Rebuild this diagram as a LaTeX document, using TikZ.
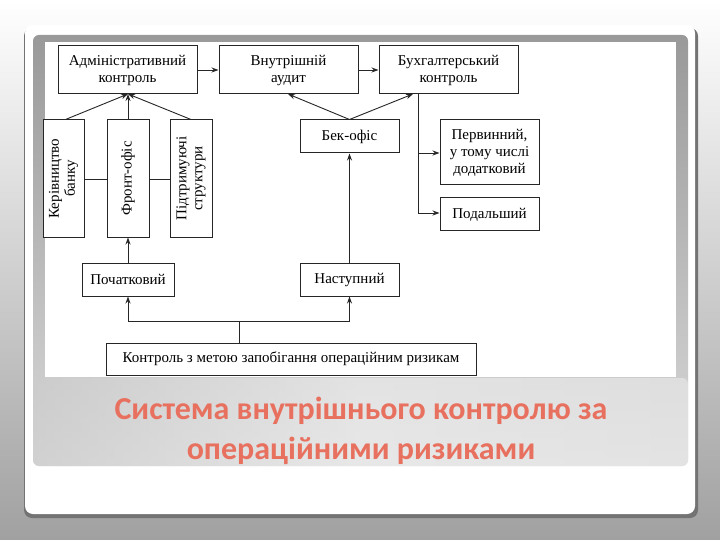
\documentclass[tikz,border=0pt]{standalone}
\usepackage{fontspec}
\setmainfont{Liberation Serif}
\newfontfamily\titlefont{Carlito}
\usetikzlibrary{arrows.meta,shadows}
\definecolor{titlec}{HTML}{E8705E}
\begin{document}
\begin{tikzpicture}[x=1pt,y=-1pt,
  bx/.style={draw=black!85,line width=1pt,fill=white,align=center,inner sep=0pt,font=\fontsize{15}{17}\selectfont},
  vt/.style={rotate=90,align=center,font=\fontsize{15}{16}\selectfont},
  ar/.style={-{Stealth[length=7pt,width=5pt]},line width=0.9pt,black!85},
  ln/.style={line width=0.9pt,black!85}]
\useasboundingbox (0,0) rectangle (720,540);
\shade[top color=white,bottom color=black!37] (0,0) rectangle (720,540);
\fill[black!55,rounded corners=8pt] (24,28) rectangle (698,518);
\fill[white,rounded corners=8pt] (25,25) rectangle (695,514);
\shade[top color=black!40,bottom color=black!15,rounded corners=6pt] (33,35) rectangle (688,466);
\shade[left color=black!20,right color=black!8,middle color=black!5,rounded corners=6pt,opacity=0.6] (33,378) rectangle (688,466);
\fill[white] (45,42) rectangle (676,377);
% boxes
\node[bx,minimum width=139pt,minimum height=48pt] (adm) at (127.5,70) {Адміністративний\\контроль};
\node[bx,minimum width=139pt,minimum height=48pt] (aud) at (288.5,70) {Внутрішній\\аудит};
\node[bx,minimum width=139pt,minimum height=48pt] (buh) at (448.5,70) {Бухгалтерський\\контроль};
\node[bx,minimum width=41pt,minimum height=117pt] (ker) at (63.5,178.5) {};
\node[vt] at (ker.center) {Керівництво\\банку};
\node[bx,minimum width=42pt,minimum height=117pt] (fro) at (128,178.5) {};
\node[vt] at (fro.center) {Фронт-офіс};
\node[bx,minimum width=42pt,minimum height=117pt] (pid) at (191,178.5) {};
\node[vt] at (pid.center) {Підтримуючі\\структури};
\node[bx,minimum width=99pt,minimum height=33pt] (bek) at (349.5,136.5) {Бек-офіс};
\node[bx,minimum width=99pt,minimum height=65pt] (per) at (489.5,152.5) {Первинний,\\у тому числі\\додатковий};
\node[bx,minimum width=99pt,minimum height=33pt] (pod) at (489.5,214.5) {Подальший};
\node[bx,minimum width=92pt,minimum height=33pt] (poc) at (128,279.5) {Початковий};
\node[bx,minimum width=99pt,minimum height=33pt] (nas) at (349.5,279.5) {Наступний};
\node[bx,minimum width=370pt,minimum height=32pt] (bot) at (291,359) {Контроль з метою запобігання операційним ризикам};
% connectors
\draw[ar] (adm.east) -- (aud.west);
\draw[ar] (aud.east) -- (buh.west);
\coordinate (admb) at (128,94);
\draw[ar] (ker.north east) ++(-19,0) -- (admb);
\draw[ar] (fro.north) -- (admb);
\draw[ar] (pid.north) -- (admb);
\draw[ln] (ker.east |- 0,179) -- (fro.west |- 0,179);
\draw[ln] (fro.east |- 0,179) -- (pid.west |- 0,179);
\draw[ar] (bek.north) -- (288,94);
\draw[ar] (bek.north) -- (413,94);
\coordinate (bd) at (418,94);
\draw[ln] (bd) -- (418,213);
\draw[ar] (418,153) -- (per.west |- 0,153);
\draw[ar] (418,213) -- (pod.west |- 0,213);
\draw[ar] (nas.north) -- (bek.south);
\draw[ar] (poc.north) -- (fro.south);
\coordinate (j) at (239,321);
\draw[ln] (bot.north -| j) -- (j);
\draw[ar] (poc.center |- j) -- (poc.south);
\draw[ar] (nas.center |- j) -- (nas.south);
\draw[ln] (poc.center |- j) -- (nas.center |- j);
% title
\node[font=\titlefont\bfseries\fontsize{32}{40}\selectfont,text=titlec,align=center] (title) at (361,431) {Система внутрішнього контролю за\\операційними ризиками};
\end{tikzpicture}
\end{document}
